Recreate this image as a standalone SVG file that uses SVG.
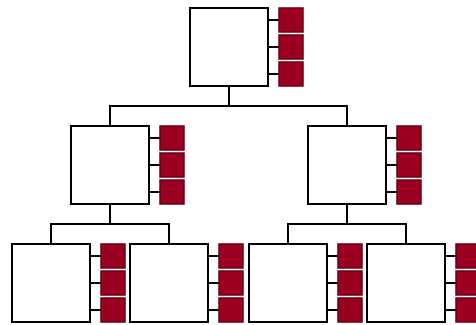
<svg xmlns="http://www.w3.org/2000/svg" width="476" height="325" viewBox="0 0 476 325">
<style>
.box{fill:#fff;stroke:#000;stroke-width:2}
.sq{fill:#9c0020;stroke:#6a0014;stroke-width:1.5}
.ln{fill:none;stroke:#000;stroke-width:2}
</style>
<defs>
<g id="unit">
<rect class="box" x="0" y="0" width="78" height="78"/>
<path class="ln" d="M79 12H89M79 39H89M79 66H89"/>
<rect class="sq" x="89" y="0" width="24" height="24"/>
<rect class="sq" x="89" y="27" width="24" height="24"/>
<rect class="sq" x="89" y="54" width="24" height="24"/>
</g>
</defs>
<rect width="476" height="325" fill="#fff"/>
<g id="connectors">
<path class="ln" d="M229 87V106M110 106H347M110 105V125M347 105V125"/>
<path class="ln" d="M110 205V224M51 224H169M51 223V243M169 223V243"/>
<path class="ln" d="M347 205V224M288 224H406M288 223V243M406 223V243"/>
</g>
<g id="node-root"><use href="#unit" x="190" y="8"/></g>
<g id="node-l"><use href="#unit" x="71" y="126"/></g>
<g id="node-r"><use href="#unit" x="308" y="126"/></g>
<g id="node-ll"><use href="#unit" x="12" y="244"/></g>
<g id="node-lr"><use href="#unit" x="130" y="244"/></g>
<g id="node-rl"><use href="#unit" x="249" y="244"/></g>
<g id="node-rr"><use href="#unit" x="367" y="244"/></g>
</svg>
